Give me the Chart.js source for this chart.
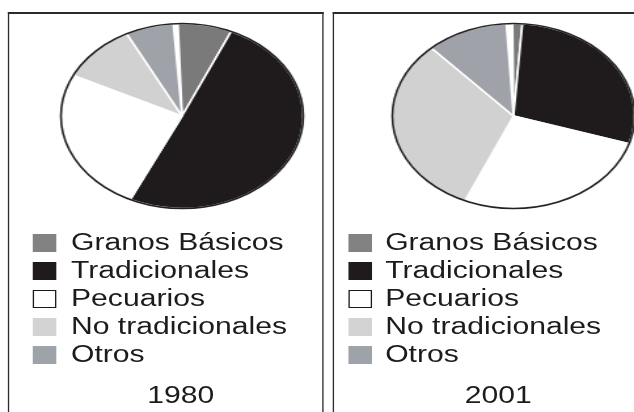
<!DOCTYPE html>
<html>
<head>
<meta charset="utf-8">
<script src="https://cdn.jsdelivr.net/npm/chart.js@4/dist/chart.umd.min.js"></script>
<style>
  html, body { margin: 0; padding: 0; background: #fff; overflow: hidden; width: 634px; height: 412px; }
  #stage { position: absolute; left: 0; top: 0; width: 484px; height: 412px; transform: scaleX(1.31); transform-origin: 0 0; }
  .panel { position: absolute; top: 12px; height: 420px; border-top: 2px solid #2b2b2b; border-left: 1.5px solid #2b2b2b; border-right: 1.5px solid #2b2b2b; box-sizing: border-box; }
  canvas { position: absolute; }
  .row { position: absolute; height: 18px; display: flex; align-items: center; font-family: "Liberation Sans", Arial, sans-serif; font-size: 23px; line-height: 23px; color: #1c1c1c; white-space: nowrap; }
  .sw { position: absolute; width: 18px; height: 18px; box-sizing: border-box; }
  .year { position: absolute; font-family: "Liberation Sans", Arial, sans-serif; font-size: 23px; line-height: 23px; color: #1c1c1c; text-align: center; width: 100px; }
</style>
</head>
<body>
<div id="stage">
  <div class="panel" style="left:6px;width:240.5px;"></div>
  <div class="panel" style="left:253.7px;width:260px;"></div>
  <canvas id="c1980" width="200" height="200" style="left:38.5px;top:15.5px;width:200px;height:200px;"></canvas>
  <canvas id="c2001" width="200" height="200" style="left:292px;top:15.5px;width:200px;height:200px;"></canvas>
  <div id="legends"></div>
</div>
<script>
// ---- data ----
const categories = ["Granos Básicos", "Tradicionales", "Pecuarios", "No tradicionales", "Otros"];
const values1980 = [7.2, 50.4, 25.2, 10.2, 6.4];
const values2001 = [1.3, 28.7, 26.7, 31.6, 10.9];
const years = ["1980", "2001"];

// ---- styles ----
const sliceColors = ["#7a7a7a", "#1f1b1c", "#ffffff", "#d1d1d1", "#9fa2a9"];
const swatchColors = ["#828282", "#1f1b1c", "#ffffff", "#d3d3d3", "#9ea3a9"];

const outlinePlugin = {
  id: 'outline',
  afterDatasetsDraw(chart) {
    const arc = chart.getDatasetMeta(0).data[0];
    if (!arc) return;
    const ctx = chart.ctx;
    ctx.save();
    ctx.beginPath();
    ctx.arc(arc.x, arc.y, arc.outerRadius, 0, Math.PI * 2);
    ctx.lineWidth = 1.6;
    ctx.strokeStyle = "#222";
    ctx.stroke();
    ctx.restore();
  }
};

function makePie(id, values, rotation) {
  const total = values.reduce((a, b) => a + b, 0);
  new Chart(document.getElementById(id), {
    type: 'pie',
    data: {
      labels: categories,
      datasets: [{
        data: values,
        backgroundColor: sliceColors,
        borderColor: "#ffffff",
        borderWidth: 1.6
      }]
    },
    options: {
      responsive: false,
      animation: false,
      rotation: rotation,
      circumference: total * 3.6,
      radius: 92.5,
      layout: { padding: 0 },
      plugins: { legend: { display: false }, tooltip: { enabled: false } }
    },
    plugins: [outlinePlugin]
  });
}

makePie("c1980", values1980, -2);
makePie("c2001", values2001, -0.5);

// ---- legends (HTML text) ----
const legendHost = document.getElementById("legends");
const legendX = [{ sw: 25, tx: 54.2 }, { sw: 266, tx: 294 }];
legendX.forEach(pos => {
  categories.forEach((cat, i) => {
    const top = 233.3 + 28 * i;
    const sw = document.createElement("div");
    sw.className = "sw";
    sw.style.left = pos.sw + "px";
    sw.style.top = (top + 0.5) + "px";
    sw.style.background = swatchColors[i];
    if (i === 2) sw.style.border = "1.6px solid #1a1a1a";
    legendHost.appendChild(sw);
    const row = document.createElement("div");
    row.className = "row";
    row.style.left = pos.tx + "px";
    row.style.top = top + "px";
    row.textContent = cat;
    legendHost.appendChild(row);
  });
});
const yearCenters = [138, 380.4];
years.forEach((y, i) => {
  const d = document.createElement("div");
  d.className = "year";
  d.style.left = (yearCenters[i] - 50) + "px";
  d.style.top = "384px";
  d.textContent = y;
  legendHost.appendChild(d);
});
</script>
</body>
</html>
